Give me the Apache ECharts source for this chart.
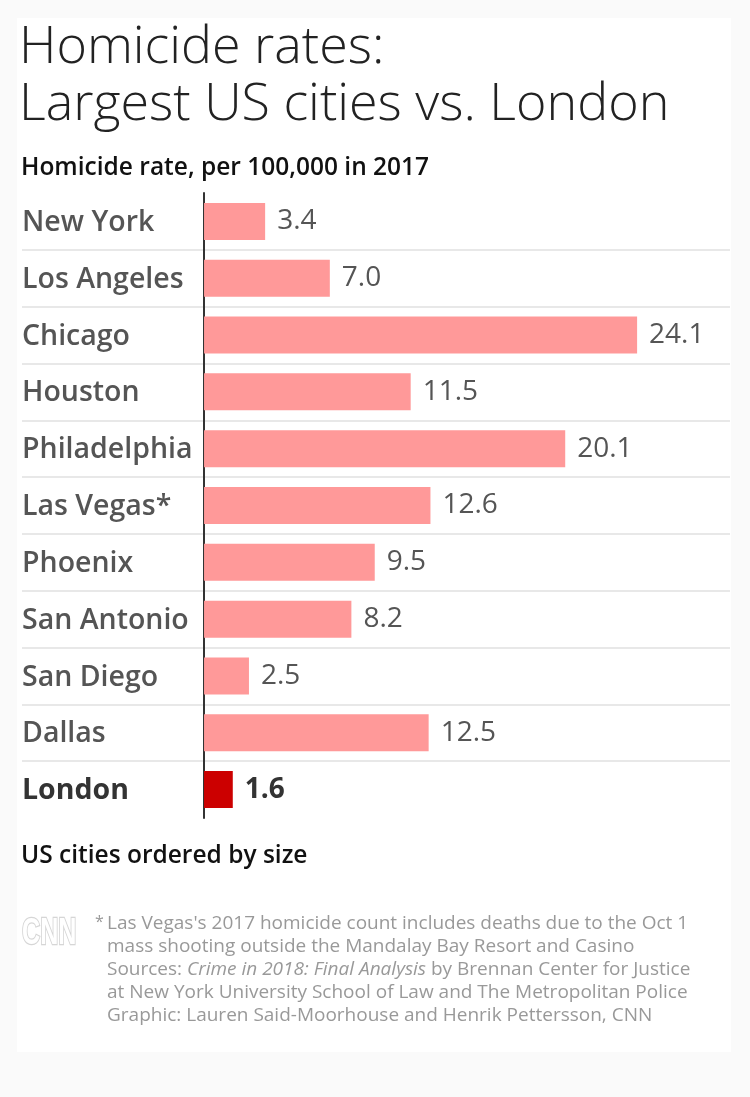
<!DOCTYPE html>
<html><head><meta charset="utf-8">
<script src="https://cdn.jsdelivr.net/npm/echarts@6/dist/echarts.min.js"></script>
<style>html,body{margin:0;padding:0;background:#fafafa;}#c{width:750px;height:1097px;}</style>
</head><body><div id="c"></div>
<script>
const cities = ['New York','Los Angeles','Chicago','Houston','Philadelphia','Las Vegas*','Phoenix','San Antonio','San Diego','Dallas','London'];
const rates = [3.4, 7.0, 24.1, 11.5, 20.1, 12.6, 9.5, 8.2, 2.5, 12.5, 1.6];
const highlightCity = 'London';
const titleLines = ['Homicide rates:', 'Largest US cities vs. London'];
const subtitleText = 'Homicide rate, per 100,000 in 2017';
const noteText = 'US cities ordered by size';
const footLines = [
  "Las Vegas's 2017 homicide count includes deaths due to the Oct 1",
  'mass shooting outside the Mandalay Bay Resort and Casino',
  'Sources: {i|Crime in 2018: Final Analysis} by Brennan Center for Justice',
  'at New York University School of Law and The Metropolitan Police',
  'Graphic: Lauren Said-Moorhouse and Henrik Pettersson, CNN'
];

const FONT = "'Open Sans', 'DejaVu Sans', sans-serif";
const chart = echarts.init(document.getElementById('c'), null, {renderer: 'canvas'});

const seriesData = rates.map((v, i) => cities[i] === highlightCity
  ? {value: v, itemStyle: {color: '#cc0000'}, label: {fontWeight: 'bold', color: '#333'}}
  : v);

chart.setOption({
  animation: false,
  backgroundColor: '#fafafa',
  title: [
    {text: titleLines.join('\n'), left: 19, top: 20, padding: 0,
     textStyle: {fontFamily: FONT, fontWeight: 300, fontSize: 52, lineHeight: 56.5, color: '#222'}},
    {text: subtitleText, left: 21, top: 156, padding: 0,
     textStyle: {fontFamily: FONT, fontWeight: 600, fontSize: 24.5, color: '#111'}},
    {text: noteText, left: 21, top: 844, padding: 0,
     textStyle: {fontFamily: FONT, fontWeight: 600, fontSize: 24.5, color: '#111'}}
  ],
  grid: {left: 22, right: 20, top: 193, height: 625, containLabel: false, outerBoundsMode: 'none'},
  xAxis: {type: 'value', min: -10.13, max: 29.27, show: false},
  yAxis: {
    type: 'category', inverse: true, data: cities,
    axisTick: {show: false},
    axisLine: {show: true, onZero: true, lineStyle: {color: '#333', width: 2}},
    splitLine: {show: true, showMinLine: false, showMaxLine: false, lineStyle: {color: '#e8e8e8', width: 2}},
    axisLabel: {
      align: 'left', margin: 0,
      formatter: v => v === highlightCity ? '{b|' + v + '}' : '{a|' + v + '}',
      rich: {
        a: {fontFamily: FONT, fontWeight: 600, fontSize: 28.5, color: '#555', padding: [3, 0, 0, 0]},
        b: {fontFamily: FONT, fontWeight: 'bold', fontSize: 28.5, color: '#333', padding: [3, 0, 0, 0]}
      }
    }
  },
  series: [{
    type: 'bar', data: seriesData, barWidth: 37, silent: true,
    itemStyle: {color: '#ff9999'},
    label: {show: true, position: 'right', distance: 12,
      formatter: p => Number(p.value).toFixed(1),
      fontFamily: FONT, fontSize: 28, color: '#555'}
  }],
  graphic: [
    {type: 'rect', z: -100, silent: true, shape: {x: 17, y: 18, width: 714, height: 1034}, style: {fill: '#ffffff'}},
    {type: 'text', x: 22, y: 915, scaleX: 0.68, silent: true,
     style: {text: 'CNN', fontFamily: "'Liberation Sans', sans-serif", fontWeight: 'bold', fontSize: 37, fill: '#ffffff', stroke: '#d6d6d6', lineWidth: 2.5}},
    {type: 'text', x: 95, y: 914, silent: true,
     style: {text: '*', fontFamily: FONT, fontSize: 16, fill: '#999'}},
    {type: 'text', x: 107, y: 912, silent: true,
     style: {text: footLines.join('\n'), fontFamily: FONT, fontSize: 19, lineHeight: 23, fill: '#999',
       rich: {i: {fontFamily: FONT, fontStyle: 'italic', fontSize: 19, lineHeight: 23, fill: '#999'}}}}
  ]
});
</script></body></html>
